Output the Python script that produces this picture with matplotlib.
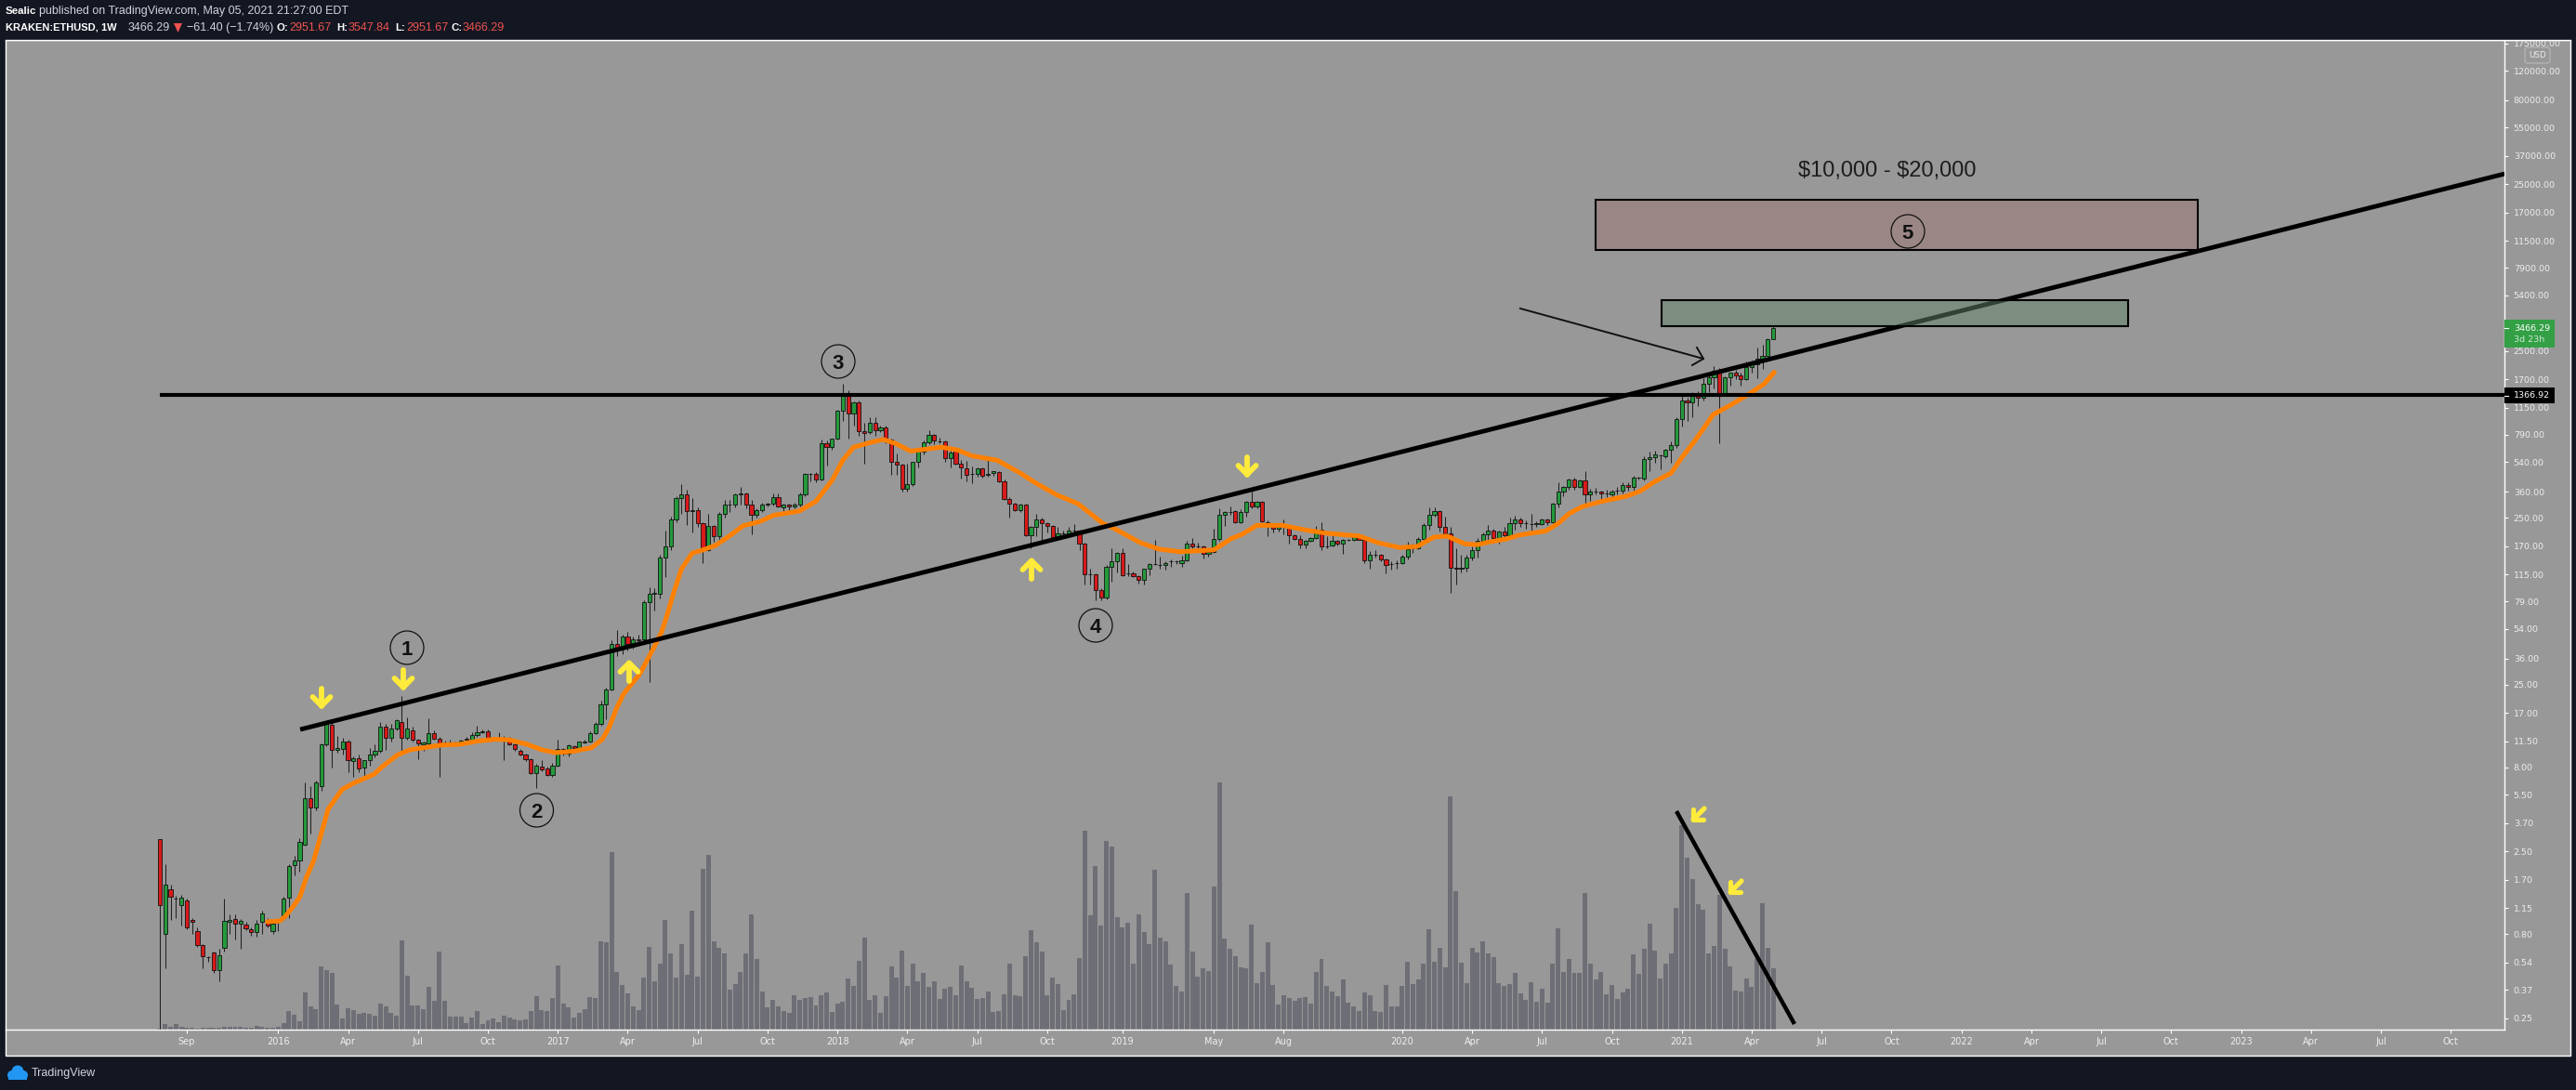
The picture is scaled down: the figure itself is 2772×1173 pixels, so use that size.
import matplotlib
matplotlib.use("Agg")
import matplotlib.pyplot as plt
from matplotlib.colors import to_rgba
from matplotlib.patches import Rectangle, Circle, FancyBboxPatch, Polygon

W, H = 2772, 1173

# weekly KRAKEN:ETHUSD candles
opens = [
    2.97, 0.8, 1.49, 1.31, 1.2, 1.27, 0.97, 0.83, 0.69, 0.58,
    0.62, 0.49, 0.66, 0.95, 0.99, 0.92, 0.91, 0.86, 0.82, 0.95,
    0.97, 0.83, 0.95, 1.0, 1.33, 2.08, 2.2, 2.75, 5.2, 4.6,
    6.2, 11, 14.4, 10.2, 10.3, 11.5, 8.7, 9.1, 8, 8.8,
    9.5, 10, 14, 12, 13.6, 15, 12, 13.4, 11.7, 11,
    11.2, 12.8, 11.9, 11.2, 11.3, 11.3, 11.2, 11.8, 11.8, 12.5,
    13, 13.2, 12.1, 12, 12.1, 12, 11, 10.1, 9.5, 9,
    7.4, 8.1, 7.9, 7.2, 8.2, 10.3, 9.7, 10.7, 10.4, 11.3,
    11.5, 12.8, 14.5, 19, 23.4, 44, 42, 49, 44, 47,
    47, 78, 88, 88, 145, 170, 245, 330, 345, 275,
    280, 232, 160, 225, 195, 265, 300, 300, 345, 350,
    300, 262, 280, 302, 305, 335, 290, 300, 295, 302,
    345, 460, 460, 428, 700, 665, 745, 1100, 1410, 1060,
    1230, 830, 815, 925, 840, 875, 738, 540, 525, 375,
    398, 540, 625, 710, 790, 720, 720, 570, 630, 530,
    497, 460, 458, 495, 452, 463, 470, 415, 325, 305,
    280, 302, 197, 220, 245, 232, 224, 192, 202, 202,
    210, 210, 175, 115, 115, 93, 83, 128, 138, 155,
    116, 117, 112, 106, 124, 132, 131, 130, 137, 137,
    135, 140, 175, 170, 170, 153, 157, 188, 263, 272,
    275, 235, 270, 312, 292, 312, 237, 228, 215, 221,
    219, 196, 188, 173, 183, 190, 212, 170, 172, 183,
    176, 185, 185, 191, 186, 140, 150, 150, 141, 132,
    134, 134, 147, 165, 165, 188, 228, 263, 275, 220,
    203, 126, 125, 126, 145, 160, 182, 200, 210, 190,
    207, 198, 232, 245, 232, 230, 230, 231, 245, 237,
    303, 362, 382, 423, 382, 418, 345, 362, 360, 350,
    345, 365, 367, 395, 385, 435, 430, 565, 580, 595,
    590, 640, 680, 980, 1270, 1235, 1350, 1320, 1590, 1745,
    1850, 1410, 1740, 1850, 1780, 1700, 2010, 2100, 2260, 2340,
    2951.67,
]
highs = [
    2.97, 2.1, 1.58, 1.36, 1.37, 1.3, 1.0, 0.88, 0.7, 0.59,
    0.63, 0.65, 1.3, 1.05, 1.05, 0.98, 0.95, 0.88, 0.97, 1.1,
    1.0, 0.97, 0.98, 1.35, 2.1, 2.35, 3.0, 6.5, 6.2, 6.7,
    11.2, 14.8, 15, 12.4, 12, 11.8, 9.3, 9.5, 8.9, 10.4,
    11, 15, 14.5, 14.6, 15.5, 21.3, 16, 14, 11.9, 11.4,
    15.8, 13.3, 12.2, 11.6, 11.7, 11.5, 11.8, 12.2, 13, 14.2,
    13.5, 13.5, 12.2, 13, 12.3, 12.2, 11.2, 10.3, 9.7, 9.1,
    8.4, 8.8, 8.1, 8.5, 11.8, 10.5, 11, 10.9, 11.5, 11.7,
    13.2, 15, 20, 24, 46, 53, 50, 52, 49, 50,
    80, 96, 95, 150, 210, 255, 340, 400, 370, 330,
    290, 236, 265, 228, 270, 320, 320, 350, 385, 355,
    320, 285, 310, 310, 350, 352, 305, 304, 310, 355,
    465, 465, 470, 735, 730, 750, 1120, 1590, 1450, 1250,
    1260, 925, 1010, 1000, 900, 890, 750, 610, 530, 530,
    540, 640, 730, 840, 800, 760, 725, 640, 640, 560,
    550, 510, 500, 500, 560, 480, 478, 425, 335, 310,
    305, 305, 225, 265, 250, 236, 228, 222, 210, 222,
    230, 214, 178, 125, 117, 95, 130, 165, 157, 165,
    133, 120, 114, 125, 135, 185, 147, 137, 141, 140,
    148, 183, 190, 178, 172, 160, 215, 285, 275, 295,
    280, 283, 315, 360, 318, 316, 242, 232, 226, 245,
    222, 200, 197, 185, 192, 225, 235, 195, 200, 186,
    188, 187, 195, 193, 188, 158, 160, 152, 143, 138,
    140, 150, 180, 175, 192, 232, 290, 290, 278, 255,
    222, 165, 150, 150, 170, 190, 205, 228, 215, 210,
    220, 250, 258, 252, 243, 265, 240, 248, 248, 310,
    410, 390, 430, 435, 425, 480, 375, 378, 365, 370,
    372, 385, 410, 410, 450, 440, 590, 625, 635, 600,
    650, 720, 1000, 1350, 1320, 1420, 1440, 1720, 1860, 2040,
    1990, 1770, 1860, 1930, 1850, 2180, 2200, 2640, 2720, 3000,
    3547.84,
]
lows = [
    0.2, 0.5, 0.97, 1.0, 0.9, 0.86, 0.8, 0.67, 0.5, 0.55,
    0.47, 0.42, 0.63, 0.8, 0.74, 0.65, 0.85, 0.78, 0.77, 0.8,
    0.88, 0.8, 0.83, 0.97, 1.0, 1.8, 1.9, 2.7, 3.2, 4.4,
    5.8, 10.7, 8, 9.8, 9.6, 7.5, 7.0, 7.5, 7, 8.2,
    9.2, 9.8, 10.2, 11.5, 13.4, 10, 11.7, 11.5, 9, 10,
    10.8, 11.8, 7, 10.9, 11, 11, 11, 11.5, 11.5, 12.2,
    12.8, 11.9, 11.8, 11.8, 8.9, 10.8, 10.1, 9.4, 8.7, 7.3,
    6, 7.6, 7.1, 7, 8.1, 9.4, 9.3, 10.2, 10.3, 11.1,
    11.3, 12.6, 14.2, 15.5, 23, 37, 38, 40, 41, 44,
    45, 26, 70, 82, 110, 160, 235, 265, 228, 204,
    220, 135, 158, 180, 185, 250, 270, 290, 300, 285,
    200, 250, 270, 292, 298, 290, 275, 275, 285, 295,
    340, 415, 412, 420, 515, 640, 735, 950, 750, 900,
    780, 530, 800, 780, 820, 700, 454, 455, 360, 360,
    390, 500, 600, 690, 690, 700, 540, 500, 520, 430,
    415, 405, 445, 435, 445, 450, 410, 320, 250, 275,
    270, 195, 165, 195, 180, 205, 188, 188, 195, 198,
    205, 160, 100, 100, 80, 80, 81, 104, 118, 112,
    112, 110, 101, 100, 114, 130, 125, 122, 128, 132,
    127, 138, 165, 160, 143, 147, 155, 183, 225, 262,
    232, 232, 255, 285, 285, 237, 195, 205, 208, 200,
    175, 185, 165, 165, 180, 188, 160, 165, 170, 172,
    152, 182, 183, 184, 135, 125, 145, 138, 116, 123,
    124, 132, 142, 155, 163, 178, 213, 255, 208, 200,
    89, 100, 118, 120, 140, 145, 175, 178, 178, 175,
    190, 195, 212, 222, 215, 210, 222, 228, 227, 232,
    290, 340, 370, 370, 378, 305, 315, 345, 320, 335,
    332, 345, 350, 365, 365, 425, 420, 475, 535, 490,
    570, 535, 660, 880, 950, 1000, 1175, 1270, 1430, 1500,
    700, 1400, 1560, 1700, 1550, 1680, 1860, 1720, 1960, 2330,
    2951.67,
]
closes = [
    1.19, 1.58, 1.34, 1.30, 1.33, 0.88, 0.95, 0.69, 0.59, 0.58,
    0.49, 0.6, 0.96, 0.97, 0.92, 0.96, 0.87, 0.82, 0.92, 1.06,
    0.9, 0.93, 0.97, 1.3, 2.05, 2.2, 2.85, 5.2, 4.6, 6.5,
    11, 14.5, 10.2, 10.4, 11.5, 8.9, 9.1, 7.9, 8.8, 9.5,
    10, 14, 12, 13.6, 15.3, 12, 13.6, 11.7, 11.2, 11.3,
    12.8, 11.9, 11, 11.2, 11.3, 11.3, 11.6, 11.9, 12.5, 13,
    13.2, 12.1, 12, 12, 12, 11, 10.3, 9.6, 9, 7.4,
    8.2, 7.8, 7.2, 8.2, 10.3, 9.7, 10.8, 10.4, 11.4, 11.5,
    12.8, 14.5, 19, 23.4, 44, 42, 49, 44, 47, 46,
    78, 88, 89, 145, 170, 245, 330, 345, 275, 280,
    232, 165, 225, 195, 265, 300, 300, 345, 350, 300,
    262, 280, 300, 305, 335, 295, 300, 295, 302, 345,
    460, 460, 428, 700, 665, 745, 1100, 1410, 1060, 1230,
    830, 805, 925, 840, 875, 738, 540, 525, 375, 398,
    540, 625, 710, 790, 730, 720, 570, 620, 530, 500,
    455, 460, 495, 450, 462, 475, 415, 325, 305, 280,
    302, 197, 220, 245, 232, 224, 192, 202, 202, 210,
    210, 175, 115, 115, 92, 83, 128, 138, 155, 114,
    116, 112, 106, 124, 132, 132, 130, 135, 137, 137,
    140, 175, 168, 170, 153, 157, 188, 263, 270, 272,
    235, 270, 312, 292, 312, 240, 224, 215, 222, 221,
    196, 188, 173, 183, 190, 207, 170, 170, 183, 176,
    186, 185, 191, 186, 140, 150, 150, 141, 131, 132,
    134, 147, 163, 165, 188, 228, 263, 275, 220, 203,
    126, 125, 126, 145, 160, 182, 200, 210, 190, 207,
    198, 232, 245, 232, 232, 230, 232, 245, 237, 303,
    362, 382, 423, 382, 418, 345, 360, 362, 350, 350,
    362, 365, 395, 385, 435, 435, 565, 580, 600, 595,
    640, 680, 975, 1270, 1235, 1350, 1310, 1590, 1745, 1900,
    1410, 1740, 1850, 1780, 1700, 2010, 2100, 2260, 2340, 2950,
    3466.29,
]
volumes = [
    1, 6, 3, 6, 3, 2, 2, 1, 2, 2,
    2, 2, 3, 3, 3, 3, 2, 2, 4, 3,
    2, 2, 3, 7, 20, 16, 9, 40, 25, 22,
    68, 64, 61, 27, 12, 23, 21, 17, 18, 17,
    15, 28, 25, 18, 15, 96, 58, 26, 26, 22,
    46, 31, 84, 31, 14, 14, 14, 7, 13, 20,
    6, 10, 12, 8, 15, 13, 11, 10, 11, 20,
    36, 21, 20, 34, 69, 28, 24, 13, 18, 22,
    35, 34, 95, 94, 191, 62, 48, 39, 25, 21,
    56, 89, 52, 71, 118, 82, 56, 92, 59, 128,
    57, 173, 188, 95, 88, 82, 43, 49, 62, 82,
    124, 76, 41, 24, 32, 25, 20, 18, 37, 32,
    34, 35, 26, 37, 40, 19, 28, 30, 55, 47,
    74, 99, 32, 37, 18, 36, 68, 56, 85, 47,
    71, 52, 61, 46, 52, 33, 44, 46, 37, 69,
    52, 45, 33, 34, 41, 19, 20, 38, 71, 37,
    36, 79, 107, 94, 84, 37, 56, 49, 21, 32,
    38, 77, 214, 123, 176, 112, 203, 197, 121, 110,
    115, 71, 124, 105, 92, 172, 99, 95, 70, 47,
    41, 147, 84, 57, 66, 63, 154, 266, 98, 87,
    79, 67, 66, 113, 50, 62, 94, 48, 27, 37,
    34, 31, 34, 35, 28, 62, 76, 47, 41, 36,
    54, 29, 25, 20, 40, 37, 20, 19, 48, 25,
    25, 47, 73, 49, 54, 71, 108, 73, 88, 67,
    251, 149, 72, 50, 88, 83, 95, 82, 78, 50,
    47, 49, 61, 39, 32, 51, 30, 44, 29, 71,
    109, 62, 76, 61, 61, 147, 71, 54, 62, 38,
    48, 33, 40, 44, 81, 60, 87, 114, 85, 55,
    71, 82, 131, 220, 185, 162, 135, 129, 82, 90,
    145, 87, 68, 42, 41, 55, 46, 76, 136, 88,
    66,
]

# moving average, read at the bends of the orange line
ma_weeks = [
    20, 22.3, 23.3, 24.6, 26, 27.3, 28.6, 29.9, 31.3, 33.9, 35.9, 39.9, 41.2, 44.2,
    46.5, 49.1, 52.5, 55.8, 59, 62.4, 65, 68.3, 71, 73.6, 77, 80.3, 82.3, 83.6,
    84.9, 86.2, 89.2, 91.9, 93.3, 94.1, 95.6, 97, 99, 101, 103.3, 105.9, 108.5,
    111.4, 114.2, 118.9, 122, 125, 127, 129, 132.2, 134.5, 136.8, 139.6, 143,
    145.3, 148.3, 151, 155.7, 160, 162.6, 166.7, 170.7, 175.3, 177.6, 182.3,
    185.7, 189.7, 196, 199.2, 201.3, 204, 208.7, 213.4, 216.8, 223, 226.5, 230.6,
    233.8, 236.9, 239.3, 242.7, 245, 247.3, 250.3, 252.9, 257.7, 260.1, 262,
    264.4, 268, 272.7, 275.3, 277.9, 281, 283, 285.2, 287, 288.8, 292.3, 295.8,
    298.3, 300.2,
]
ma_values = [
    0.95, 0.96, 1.02, 1.15, 1.33, 1.77, 2.2, 3.1, 4.5, 5.9, 6.4, 7.3, 8, 9.5,
    10.2, 10.5, 10.9, 11, 11.5, 11.8, 11.7, 11, 10.2, 9.8, 10, 10.5, 11.8, 14,
    18, 22, 28.9, 42, 52, 62, 90, 124, 154, 161, 171, 195, 225,
    237, 260, 275, 315, 420, 555, 665, 710, 740, 700, 630, 650,
    665, 640, 590, 555, 465, 410, 345, 305, 233, 215, 178,
    163, 157, 161, 188, 200, 226, 226, 211, 203, 195, 178, 166,
    169, 192, 195, 175, 173, 180, 187, 198, 209, 233, 265,
    292, 314, 338, 363, 412, 465, 575, 710, 855, 1040, 1200, 1405,
    1590, 1870,
]

price_ticks = [175000, 120000, 80000, 55000, 37000, 25000, 17000, 11500, 7900, 5400,
               2500, 1700, 1150, 790, 540, 360, 250, 170, 115, 79, 54, 36, 25, 17,
               11.5, 8, 5.5, 3.7, 2.5, 1.7, 1.15, 0.8, 0.54, 0.37, 0.25]
time_ticks = [5, 22, 35, 48, 61, 74, 87, 100, 113, 126, 139, 152, 165, 179, 196, 209, 231,
              244, 257, 270, 283, 296, 309, 322, 335, 348, 361, 374, 387, 400, 413, 426]
time_labels = ["Sep", "2016", "Apr", "Jul", "Oct", "2017", "Apr", "Jul", "Oct", "2018",
               "Apr", "Jul", "Oct", "2019", "May", "Aug", "2020", "Apr", "Jul", "Oct",
               "2021", "Apr", "Jul", "Oct", "2022", "Apr", "Jul", "Oct", "2023", "Apr",
               "Jul", "Oct"]

DARK = "#131722"
PANEL = "#989898"
LIGHT = "#eeeeee"
TEXT = "#d1d4dc"
RED_TXT = "#ef5350"
UP = "#249a3c"
DOWN = "#d81a1a"
VOL = "#6e6f76"
ORANGE = "#ff8000"
YELLOW = "#ffeb3b"
HEAD = "Liberation Sans"


def pixel_axes(zorder):
    a = fig.add_axes([0, 0, 1, 1], zorder=zorder)
    a.set_xlim(0, W)
    a.set_ylim(H, 0)
    a.axis("off")
    a.patch.set_visible(False)
    return a


def yellow_arrow(a, cx, cy, dx, dy, length, width):
    # dx, dy is the unit direction the arrow points to
    tip = (cx + dx * length / 2, cy + dy * length / 2)
    tail = (cx - dx * length / 2, cy - dy * length / 2)
    px, py = -dy, dx
    back = width / 2
    for side in (1, -1):
        a.plot([tip[0], tip[0] - dx * back + side * px * back],
               [tip[1], tip[1] - dy * back + side * py * back],
               color=YELLOW, lw=length * 0.22, solid_capstyle="round")
    a.plot([tail[0], tip[0]], [tail[1], tip[1]], color=YELLOW, lw=length * 0.22,
           solid_capstyle="round")


fig = plt.figure(figsize=(W / 100, H / 100), dpi=100, facecolor=DARK)

# panel and frame behind the chart
back = pixel_axes(-1)
back.add_patch(Rectangle((5.5, 43), 2766 - 5.5, 1136 - 43, facecolor=PANEL, edgecolor="white", lw=1))

rect = [6 / W, (H - 1108) / H, (2695 - 6) / W, (1108 - 43) / H]
vol_ax = fig.add_axes(rect, zorder=0)
ax = fig.add_axes(rect, zorder=1)
vol_ax.patch.set_visible(False)
ax.patch.set_visible(False)

weeks = list(range(len(closes)))
xlim = (-28.68, 435.97)

vol_ax.bar(weeks, volumes, width=0.86, color=VOL)
vol_ax.set_xlim(xlim)
vol_ax.set_ylim(0, 1065)
vol_ax.axis("off")

colors = [UP if c >= o else DOWN for o, c in zip(opens, closes)]
ax.set_yscale("log")
ax.vlines(weeks, lows, highs, color="#222222", lw=0.75, zorder=2)
ax.bar(weeks, [abs(c - o) for o, c in zip(opens, closes)], bottom=[min(o, c) for o, c in zip(opens, closes)],
       width=0.72, color=colors, edgecolor="#111111", lw=0.6, zorder=3)
ax.plot(ma_weeks, ma_values, color=ORANGE, lw=3.6, zorder=4, solid_capstyle="round", solid_joinstyle="round")

# drawn levels
ax.plot([0, 436], [1366.92, 1366.92], color="black", lw=3.0, zorder=5, solid_capstyle="butt")
ax.plot([26.1, 436], [13.5, 28950], color="black", lw=3.5, zorder=5, solid_capstyle="butt")

ax.set_xlim(xlim)
ax.set_ylim(0.2143, 183700)
ax.minorticks_off()
ax.yaxis.tick_right()
ax.set_yticks(price_ticks)
ax.set_yticklabels(["%.2f" % p for p in price_ticks])
ax.set_xticks(time_ticks)
ax.set_xticklabels(time_labels)
ax.tick_params(axis="y", which="major", length=3, width=0.8, color="white", labelcolor=LIGHT, labelsize=6.8, pad=4)
ax.tick_params(axis="x", which="major", length=3, width=0.8, color="white", labelcolor=LIGHT, labelsize=7, pad=3)
ax.minorticks_off()
for lab in ax.get_yticklabels() + ax.get_xticklabels():
    lab.set_path_effects([])
    lab.set_fontweight("medium")
for name in ("left", "top"):
    ax.spines[name].set_visible(False)
for name in ("right", "bottom"):
    ax.spines[name].set_color("white")
    ax.spines[name].set_linewidth(1)

over = pixel_axes(5)

# target zones, see-through so the trend line shows in them
over.add_patch(Rectangle((1717, 215), 648, 54, facecolor=to_rgba("#9e7676", 0.5), edgecolor="black", lw=1.5, zorder=2))
over.add_patch(Rectangle((1788, 323), 502, 28, facecolor=to_rgba("#628668", 0.5), edgecolor="black", lw=1.5, zorder=2))
over.text(2031, 184, "\\$10,000 - \\$20,000", ha="center", va="center", fontsize=17, family=HEAD, color="#1c1c1c")

# wave labels
for label, cx, cy in [("1", 438, 697), ("2", 577.5, 872), ("3", 902, 389), ("4", 1179, 673), ("5", 2053, 249)]:
    over.add_patch(Circle((cx, cy), 18, facecolor="none", edgecolor="#111111", lw=0.9, zorder=3))
    over.text(cx, cy, label, ha="center", va="center_baseline", fontsize=16, fontweight="bold", family=HEAD,
              color="#111111", zorder=3)

# thin arrow to the breakout
over.plot([1636, 1833], [332, 386], color="#111111", lw=1.4)
over.plot([1826, 1833, 1821], [374, 386, 393], color="#111111", lw=1.4)

# volume trend line
over.plot([1804, 1931], [873, 1102], color="black", lw=3.2, solid_capstyle="butt")

for cx, cy in [(346, 750), (434, 730), (1342, 501)]:
    yellow_arrow(over, cx, cy, 0, 1, 19, 19)
for cx, cy in [(677, 723), (1110, 613)]:
    yellow_arrow(over, cx, cy, 0, -1, 19, 19)
for cx, cy in [(1828, 876), (1868, 954)]:
    yellow_arrow(over, cx, cy, -0.707, 0.707, 17, 16)

# price tags on the scale
over.add_patch(Rectangle((2695, 344), 54, 30, facecolor="#33a046", edgecolor="none", zorder=4))
over.text(2705, 353, "3466.29", color="white", fontsize=6.8, va="center", zorder=5)
over.text(2705, 366, "3d 23h", color="#cfe8d2", fontsize=6.8, va="center", zorder=5)
over.add_patch(Rectangle((2695, 417), 54, 17, facecolor="black", edgecolor="none", zorder=4))
over.text(2705, 425.5, "1366.92", color="white", fontsize=6.8, va="center", zorder=5)
over.plot([2695, 2699], [353, 353], color="white", lw=0.8, zorder=5)
over.plot([2695, 2699], [425.5, 425.5], color="white", lw=0.8, zorder=5)
over.add_patch(FancyBboxPatch((2719, 53), 23, 13, boxstyle="round,pad=2,rounding_size=3", facecolor=PANEL,
                              edgecolor="#b9b9b9", lw=0.8, zorder=4))
over.text(2730.5, 59.5, "USD", color=LIGHT, fontsize=6.3, ha="center", va="center", zorder=5)

# header band, it also clips the scale label at the top
over.add_patch(Rectangle((0, 0), W, 43, facecolor=DARK, edgecolor="none", zorder=6))
over.plot([5.5, 2766], [43, 43], color="white", lw=1, zorder=7)
head_bits = [
    (6, 12, "Sealic", "white", "bold", 8.2),
    (42, 12, "published on TradingView.com, May 05, 2021 21:27:00 EDT", TEXT, "normal", 9),
    (6, 30, "KRAKEN:ETHUSD, 1W", "white", "bold", 8.0),
    (138, 30, "3466.29", TEXT, "normal", 9),
    (201, 30, "\u221261.40 (\u22121.74%)", TEXT, "normal", 9),
    (298, 30, "O:", "white", "bold", 8.2),
    (311, 30, "2951.67", RED_TXT, "normal", 9),
    (362, 30, "H:", "white", "bold", 8.2),
    (375, 30, "3547.84", RED_TXT, "normal", 9),
    (425, 30, "L:", "white", "bold", 8.2),
    (437, 30, "2951.67", RED_TXT, "normal", 9),
    (486, 30, "C:", "white", "bold", 8.2),
    (498, 30, "3466.29", RED_TXT, "normal", 9),
]
for x, y, s, col, weight, size in head_bits:
    over.text(x, y, s, color=col, fontsize=size, fontweight=weight, family=HEAD, va="center", zorder=8)
over.add_patch(Polygon([(187, 25), (196, 25), (191.5, 35)], facecolor=RED_TXT, edgecolor="none", zorder=8))

# footer logo
for cx, cy, r in [(13, 1157, 5), (19, 1153, 6.5), (25, 1157, 5)]:
    over.add_patch(Circle((cx, cy), r, facecolor="#2196f3", edgecolor="none", zorder=8))
over.add_patch(Rectangle((9, 1157), 20, 5, facecolor="#2196f3", edgecolor="none", zorder=8))
over.text(34, 1155, "TradingView", color=TEXT, fontsize=9, family=HEAD, va="center", zorder=8)

fig.savefig("out.png", dpi=100, facecolor=DARK)
